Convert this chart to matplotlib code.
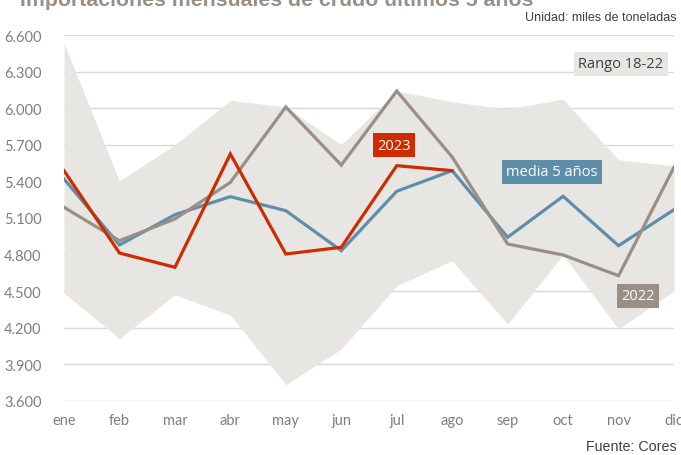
import matplotlib
matplotlib.use("Agg")
import matplotlib.pyplot as plt

months = ["ene", "feb", "mar", "abr", "may", "jun", "jul", "ago", "sep", "oct", "nov", "dic"]
rango_max = [6530, 5403, 5700, 6065, 6010, 5700, 6141, 6053, 5993, 6075, 5578, 5526]
rango_min = [4485, 4110, 4471, 4305, 3734, 4026, 4545, 4750, 4231, 4797, 4190, 4502]
media5 = [5420, 4879, 5127, 5275, 5160, 4832, 5319, 5488, 4942, 5278, 4873, 5168]
y2022 = [5188, 4914, 5092, 5392, 6010, 5534, 6141, 5600, 4887, 4797, 4627, 5516]
y2023 = [5488, 4813, 4696, 5625, 4805, 4860, 5529, 5488]
yticks = [3600, 3900, 4200, 4500, 4800, 5100, 5400, 5700, 6000, 6300, 6600]
ytick_labels = [f"{v:,}".replace(",", ".") for v in yticks]

C_BAND = "#E7E6E2"
C_BLUE = "#5E8FAA"
C_GRAY = "#9B8F85"
C_RED = "#CF2B00"

fig = plt.figure(figsize=(6.81, 4.56), dpi=100)
ax = fig.add_axes([64/681, 1-402/456, (674-64)/681, (402-36)/456])
x = list(range(12))

ax.set_xlim(0, 11)
ax.set_ylim(3600, 6600)
ax.set_yticks(yticks)
ax.set_yticklabels(ytick_labels)
ax.set_xticks(x)
ax.set_xticklabels(months)
ax.grid(axis="y", color="#D9D9D9", linewidth=1.0, zorder=0)
ax.set_axisbelow(True)
for s in ax.spines.values():
    s.set_visible(False)
ax.tick_params(axis="both", length=0, colors="#7F7F7F", labelsize=10.5)
for lab in ax.get_xticklabels() + ax.get_yticklabels():
    lab.set_fontfamily("Lato")
    lab.set_color("#7F7F7F")
ax.tick_params(axis="y", pad=16)
ax.tick_params(axis="x", pad=9)

ax.fill_between(x, rango_min, rango_max, color=C_BAND, linewidth=0, zorder=1)
ax.plot(x, media5, color=C_BLUE, linewidth=2.3, zorder=3, solid_joinstyle="miter")
ax.plot(x, y2022, color=C_GRAY, linewidth=2.3, zorder=4, solid_joinstyle="miter")
ax.plot(x[:len(y2023)], y2023, color=C_RED, linewidth=2.3, zorder=5, solid_joinstyle="miter")

def label(px, py, text, bg, fg="white"):
    fig.text(px/681, 1-py/456, text, ha="center", va="center", fontsize=10.5,
             family="Open Sans", color=fg,
             bbox=dict(boxstyle="square,pad=0.3", facecolor=bg, edgecolor="none"))

label(394, 146, "2023", C_RED)
label(552, 173, "media 5 años", C_BLUE)
label(638, 297, "2022", C_GRAY)
label(621, 65, "Rango 18-22", C_BAND, fg="#404040")

fig.text(20/681, 1-6/456, "Importaciones mensuales de crudo últimos 5 años",
         ha="left", va="baseline", fontsize=15.3, fontweight="bold",
         family="Liberation Sans", color="#9B8F85")
fig.text(677/681, 1-18/456, "Unidad: miles de toneladas", ha="right", va="center",
         fontsize=9, family="Liberation Sans", color="#404040")
fig.text(677/681, 1-447/456, "Fuente: Cores", ha="right", va="center",
         fontsize=10.3, family="Liberation Sans", color="#404040")

fig.savefig("out.png", dpi=100)
